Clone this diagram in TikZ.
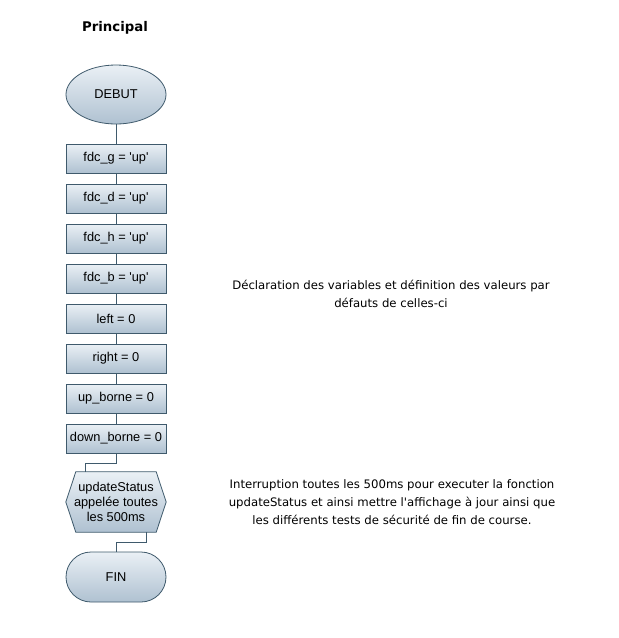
\documentclass[tikz,border=0pt]{standalone}
\usepackage{fontspec}
\setmainfont{Liberation Sans}
\newfontfamily\notefont{DejaVu Sans}
\usetikzlibrary{shapes.geometric, shapes.misc, backgrounds}
\definecolor{edgeblue}{HTML}{3F5A6C}
\definecolor{topblue}{HTML}{EAF0F5}
\definecolor{botblue}{HTML}{AFC1D1}
\newcommand{\qup}{\textquotesingle up\textquotesingle}
\begin{document}
\begin{tikzpicture}[x=1pt, y=-1pt, font=\fontsize{12.8}{15}\selectfont,
		shaded/.style={draw=edgeblue, top color=topblue, bottom color=botblue, line width=0.8pt},
		terminal/.style={shaded, ellipse, minimum width=100pt, minimum height=59pt, inner sep=0pt},
		finstyle/.style={shaded, rounded rectangle, minimum width=100pt, minimum height=50pt, inner sep=0pt},
		assign/.style={shaded, rectangle, minimum width=100pt, minimum height=29pt, inner sep=0pt},
		hexlabel/.style={minimum width=100pt, minimum height=60pt, inner sep=0pt, align=center},
		note/.style={font=\notefont\fontsize{11.7}{18}\selectfont, align=center},
		link/.style={draw=edgeblue, line width=0.8pt}]
		\useasboundingbox (0,0) rectangle (619,638);
		\node[font=\notefont\bfseries\fontsize{13.3}{16}\selectfont] (title) at (115,28) {Principal};
		\node[terminal] (debut) at (116,94.5) {DEBUT};
		\node[assign] (fdcg) at (116,158.5) {fdc\_g = \qup};
		\node[assign] (fdcd) at (116,198.5) {fdc\_d = \qup};
		\node[assign] (fdch) at (116,238.5) {fdc\_h = \qup};
		\node[assign] (fdcb) at (116,278.5) {fdc\_b = \qup};
		\node[assign] (left) at (116,318.5) {left = 0};
		\node[assign] (right) at (116,358.5) {right = 0};
		\node[assign] (upborne) at (116,398.5) {up\_borne = 0};
		\node[assign] (downborne) at (116,438.5) {down\_borne = 0};
		\node[hexlabel] (update) at (116,502) {updateStatus\\appelée toutes\\les 500ms};
		\node[finstyle] (fin) at (116,577) {FIN};
		% hexagon behind its label
		\begin{pgfonlayer}{background}
			\path[shaded] (update.west) -- ([xshift=10pt]update.north west) -- ([xshift=-10pt]update.north east) -- (update.east) -- ([xshift=-10pt]update.south east) -- ([xshift=10pt]update.south west) -- cycle;
		\end{pgfonlayer}
		\draw[link] (debut) -- (fdcg);
		\draw[link] (fdcg) -- (fdcd);
		\draw[link] (fdcd) -- (fdch);
		\draw[link] (fdch) -- (fdcb);
		\draw[link] (fdcb) -- (left);
		\draw[link] (left) -- (right);
		\draw[link] (right) -- (upborne);
		\draw[link] (upborne) -- (downborne);
		\draw[link] (downborne.south) -- ++(0,10) -| ([xshift=20pt]update.north west);
		\draw[link] ([xshift=-20pt]update.south east) -- ++(0,10) -| (fin.north);
		\node[note] (declnote) at (391,294) {Déclaration des variables et définition des valeurs par\\défauts de celles-ci};
		\node[note] (irqnote) at (392,502) {Interruption toutes les 500ms pour executer la fonction\\updateStatus et ainsi mettre l'affichage à jour ainsi que\\les différents tests de sécurité de fin de course.};
	\end{tikzpicture}
\end{document}
